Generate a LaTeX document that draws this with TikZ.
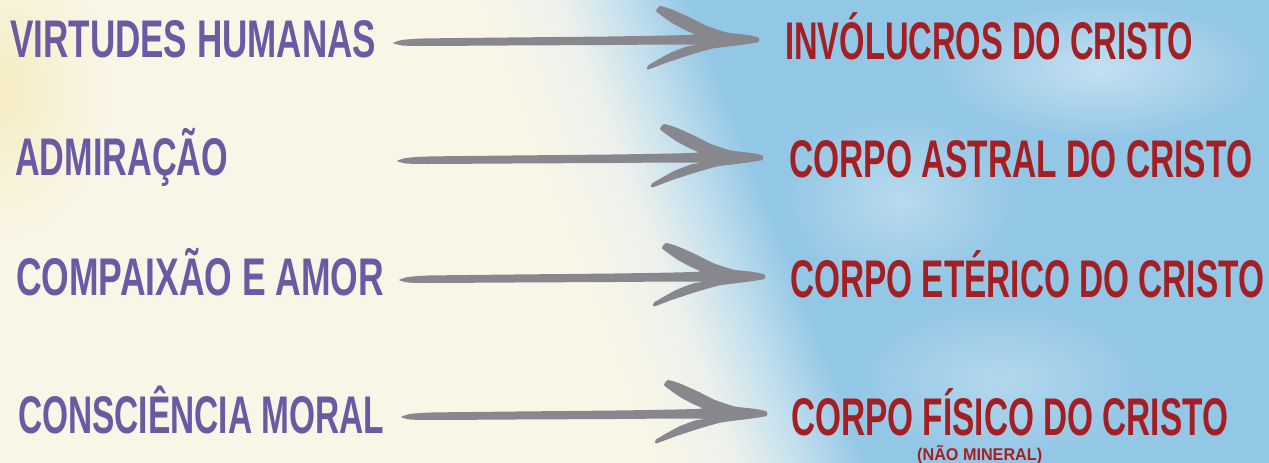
\documentclass[tikz,border=0pt]{standalone}
\usepackage{graphicx}
\usepackage{fontspec}
\setmainfont{Liberation Sans}
\usetikzlibrary{fadings}
\definecolor{cream}{HTML}{FAF6E7}
\definecolor{creamy}{HTML}{F6EDC2}
\definecolor{pale}{HTML}{EDF1EC}
\definecolor{sky}{HTML}{93C7E6}
\definecolor{skylight}{HTML}{C2DFED}
\definecolor{txtpurple}{HTML}{6A5AA3}
\definecolor{txtred}{HTML}{A41F24}
\definecolor{arrowgray}{HTML}{88878D}
\tikzfading[name=softblob, inner color=transparent!0, outer color=transparent!100]
\pgfdeclarehorizontalshading{bgshade}{100bp}{color(0bp)=(cream); color(46.6bp)=(cream); color(48.9bp)=(pale); color(50.6bp)=(skylight); color(52.3bp)=(sky); color(100bp)=(sky)}
\tikzset{
  lefttxt/.style={text=txtpurple, inner sep=0pt, anchor=base west, font=\fontsize{53}{53}\selectfont\bfseries},
  righttxt/.style={text=txtred, inner sep=0pt, anchor=base west, font=\fontsize{53}{53}\selectfont\bfseries},
  notetxt/.style={text=txtred, inner sep=0pt, anchor=base west, font=\fontsize{17}{17}\selectfont\bfseries},
  brush/.pic={\fill[arrowgray] plot[smooth cycle, tension=0.3] coordinates {
    (-365,3) (-356,0) (-335,-1.5) (-250,-2.5) (-150,-3.5) (-90,-4.5) (-64,-5.5)
    (-73,-10) (-86,-17) (-96,-24) (-102,-29) (-98,-34)
    (-86,-30.5) (-68,-22.5) (-51,-14) (-31,-7.5) (-10,-5) (0.5,-2.5) (0.5,2)
    (-18,5) (-45,8.5) (-68,15) (-91,22.5) (-110,29.5) (-110,25.5)
    (-88,13) (-71,6.5) (-62,4.8)
    (-90,4.5) (-150,5) (-250,5.5) (-335,6) (-356,5.5)};}
}
\begin{document}
\begin{tikzpicture}[x=1pt,y=-1pt]
\useasboundingbox (0,0) rectangle (1269,463);
\begin{scope}
  \clip (0,0) rectangle (1269,463);
  \shade[shading=bgshade, transform canvas={rotate around={21:(690,231)}}] (-210,-669) rectangle (1590,1131);
  \fill[creamy, path fading=softblob] (0,90) ellipse (110 and 150);
  \fill[white, opacity=0.45, path fading=softblob] (1100,70) ellipse (170 and 70);
  \fill[white, opacity=0.35, path fading=softblob] (900,200) ellipse (120 and 90);
  \fill[white, opacity=0.3, path fading=softblob] (1000,380) ellipse (150 and 80);
\end{scope}
% left labels
\node[lefttxt] (l1) at (10,57) {\resizebox{366pt}{\height}{VIRTUDES HUMANAS}};
\node[lefttxt] (l2) at (15,175) {\resizebox{213pt}{\height}{ADMIRAÇÃO}};
\node[lefttxt] (l3) at (16,295) {\resizebox{368pt}{\height}{COMPAIXÃO E AMOR}};
\node[lefttxt] (l4) at (18,433) {\resizebox{366pt}{\height}{CONSCIÊNCIA MORAL}};
% right labels
\node[righttxt] (r1) at (785,59) {\resizebox{408pt}{\height}{INVÓLUCROS DO CRISTO}};
\node[righttxt] (r2) at (789,177) {\resizebox{463pt}{\height}{CORPO ASTRAL DO CRISTO}};
\node[righttxt] (r3) at (790,297) {\resizebox{474pt}{\height}{CORPO ETÉRICO DO CRISTO}};
\node[righttxt] (r4) at (791,435) {\resizebox{437pt}{\height}{CORPO FÍSICO DO CRISTO}};
\node[notetxt] (n4) at (917,460) {\resizebox{125pt}{\height}{(NÃO MINERAL)}};
% arrows
\coordinate (t1) at (758,40);
\coordinate (t2) at (762,158);
\coordinate (t3) at (764,277);
\coordinate (t4) at (766,414);
\pic at (t1) {brush};
\pic at (t2) {brush};
\pic at (t3) {brush};
\pic at (t4) {brush};
\end{tikzpicture}
\end{document}
